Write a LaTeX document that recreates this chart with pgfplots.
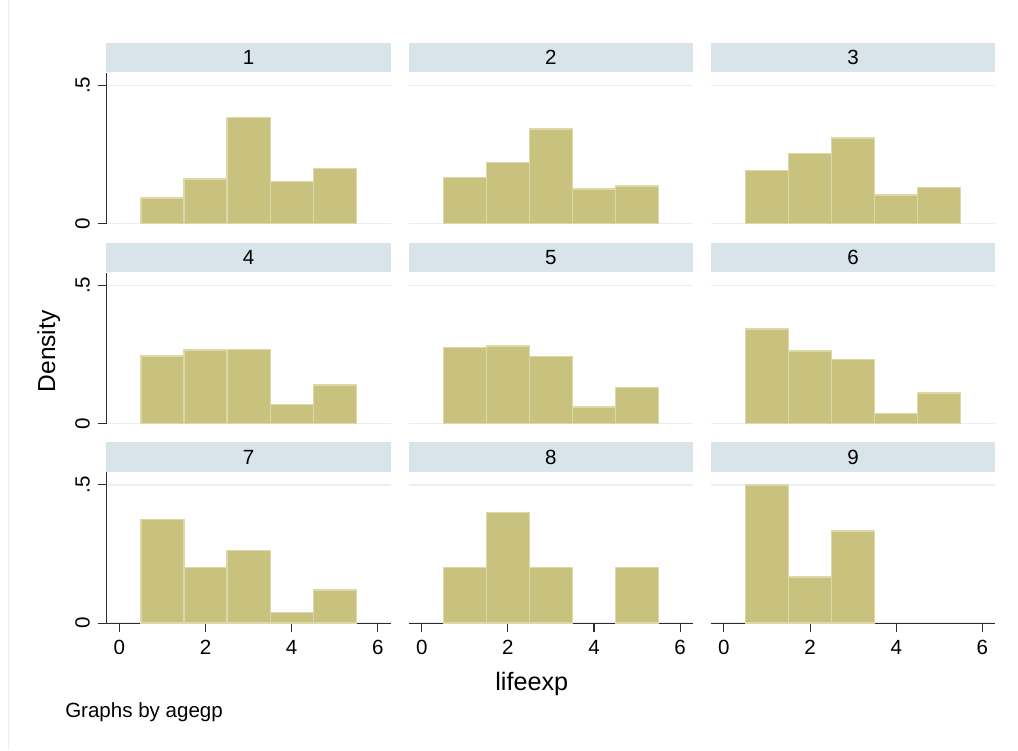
\documentclass[border=0pt]{standalone}
\usepackage{fontspec}
\setmainfont{Liberation Sans}
\usepackage{pgfplots}
\pgfplotsset{compat=1.18}
\definecolor{barfill}{RGB}{201,194,126}
\definecolor{barline}{RGB}{221,216,168}
\definecolor{stripfill}{RGB}{217,228,234}
\definecolor{gridc}{RGB}{232,240,243}
\definecolor{axisc}{RGB}{45,45,45}
\definecolor{framec}{RGB}{238,238,238}

\pgfplotsset{
  panel/.style={
    scale only axis, width=213.2pt, height=113.25pt,
    xmin=-0.3, xmax=6.3, ymin=0, ymax=0.546,
    axis lines*=left,
    every non boxed x axis/.append style={x axis line style=-},
    every non boxed y axis/.append style={y axis line style=-},
    xtick={0,2,4,6}, ytick={0,0.5},
    xticklabels={0,2,4,6}, yticklabels={0,.5},
    ymajorgrids, major grid style={gridc, line width=1.1pt},
    tick align=outside, major tick length=6.75pt,
    axis line style={axisc, line width=0.8pt},
    tick style={axisc, line width=0.8pt},
    ticklabel style={font=\fontsize{15.4}{18}\selectfont},
    /pgf/number format/assume math mode=true,
    every axis title/.style={at={(0.5,1)}, anchor=south, fill=stripfill,
      minimum width=213.2pt, minimum height=22.1pt, inner sep=0pt,
      font=\fontsize{15.4}{18}\selectfont},
    ybar, bar width=1, bar shift=0pt,
    clip=false,
    yticklabel style={rotate=90, anchor=south, inner sep=0pt},
    xticklabel style={anchor=north, inner sep=0pt},
    yticklabel shift=5.5pt,
    xticklabel shift=6pt,
  },
  noy/.style={y axis line style={draw=none}, ytick style={draw=none}, yticklabels={}},
  nox/.style={x axis line style={draw=none}, xtick style={draw=none}, xticklabels={}},
  hbar/.style={fill=barfill, draw=barline, line width=1pt},
}

\begin{document}
\begin{tikzpicture}
\fill[white] (0pt,0pt) rectangle (763.5pt,-562.5pt);
\draw[framec, line width=0.6pt] (6pt,0pt) -- (6pt,-562.5pt);

% Row 1
\begin{axis}[panel, nox, at={(79.875pt,-167.475pt)}, anchor=south west, title={1}]
\addplot[hbar] coordinates {(1,0.093) (2,0.162) (3,0.383) (4,0.152) (5,0.199)};
\end{axis}
\begin{axis}[panel, nox, noy, at={(306.6pt,-167.475pt)}, anchor=south west, title={2}]
\addplot[hbar] coordinates {(1,0.168) (2,0.221) (3,0.343) (4,0.126) (5,0.136)};
\end{axis}
\begin{axis}[panel, nox, noy, at={(533.25pt,-167.475pt)}, anchor=south west, title={3}]
\addplot[hbar] coordinates {(1,0.192) (2,0.253) (3,0.310) (4,0.104) (5,0.131)};
\end{axis}

% Row 2
\begin{axis}[panel, nox, at={(79.875pt,-317.475pt)}, anchor=south west, title={4}]
\addplot[hbar] coordinates {(1,0.245) (2,0.267) (3,0.269) (4,0.069) (5,0.140)};
\end{axis}
\begin{axis}[panel, nox, noy, at={(306.6pt,-317.475pt)}, anchor=south west, title={5}]
\addplot[hbar] coordinates {(1,0.275) (2,0.281) (3,0.243) (4,0.061) (5,0.132)};
\end{axis}
\begin{axis}[panel, nox, noy, at={(533.25pt,-317.475pt)}, anchor=south west, title={6}]
\addplot[hbar] coordinates {(1,0.343) (2,0.263) (3,0.233) (4,0.038) (5,0.111)};
\end{axis}

% Row 3
\begin{axis}[panel, at={(79.875pt,-467.025pt)}, anchor=south west, title={7}]
\addplot[hbar] coordinates {(1,0.375) (2,0.200) (3,0.262) (4,0.038) (5,0.120)};
\end{axis}
\begin{axis}[panel, noy, at={(306.6pt,-467.025pt)}, anchor=south west, title={8}]
\addplot[hbar] coordinates {(1,0.2) (2,0.4) (3,0.2) (5,0.2)};
\end{axis}
\begin{axis}[panel, noy, at={(533.25pt,-467.025pt)}, anchor=south west, title={9}]
\addplot[hbar] coordinates {(1,0.5) (2,0.1667) (3,0.3333)};
\end{axis}

\node[rotate=90, anchor=base, inner sep=0pt, font=\fontsize{18.4}{22}\selectfont] at (41.25pt,-263.25pt) {Density};
\node[anchor=base, inner sep=0pt, font=\fontsize{18.9}{22}\selectfont] at (398.8pt,-517.5pt) {lifeexp};
\node[anchor=base west, inner sep=0pt, font=\fontsize{15.4}{18}\selectfont] at (48.75pt,-537.5pt) {Graphs by agegp};
\end{tikzpicture}
\end{document}
